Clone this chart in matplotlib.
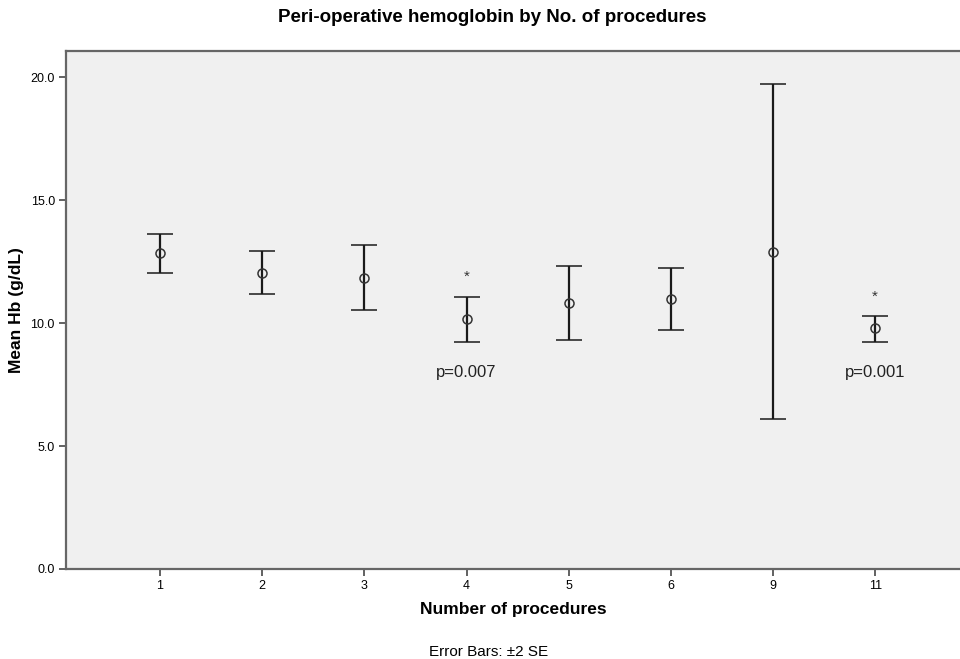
import numpy as np
import matplotlib.pyplot as plt

plt.rcParams['font.family'] = ['Liberation Sans', 'DejaVu Sans']

groups = ['1', '2', '3', '4', '5', '6', '9', '11']
mean_hb = [12.85, 12.03, 11.83, 10.16, 10.81, 10.98, 12.89, 9.80]
upper = [13.62, 12.93, 13.17, 11.06, 12.32, 12.24, 19.72, 10.28]
lower = [12.03, 11.18, 10.53, 9.23, 9.31, 9.72, 6.10, 9.23]

# significant groups: (index, star y, p text, p y)
sig = [(3, 11.9, 'p=0.007', 7.97), (7, 11.06, 'p=0.001', 8.0)]

fig = plt.figure(figsize=(9.6, 6.59), dpi=100)
ax = fig.add_axes([0.06875, 0.1366, 0.93125, 0.786])
ax.set_facecolor('#f0f0f0')

x = np.arange(len(groups))
m = np.array(mean_hb)
err = [m - np.array(lower), np.array(upper) - m]
ax.errorbar(x, m, yerr=err, fmt='o', mfc='none', mec='#333333', ms=6.5, mew=1.1,
            ecolor='#1a1a1a', elinewidth=1.6, capsize=9.5, capthick=2.0)

for i, sy, ptxt, py in sig:
    ax.text(x[i], sy, '*', ha='center', va='center', fontsize=11, color='#333333')
    ax.text(x[i], py, ptxt, ha='center', va='center', fontsize=12, color='#222222')

ax.set_xlim(-0.92, 7.83)
ax.set_ylim(0, 21.06)
ax.set_xticks(x)
ax.set_xticklabels(groups)
ax.set_yticks([0, 5, 10, 15, 20])
ax.set_yticklabels(['0.0', '5.0', '10.0', '15.0', '20.0'])
ax.tick_params(axis='both', length=5, width=1.3, color='#555555', labelsize=9, pad=3)

for s in ['left', 'bottom', 'top']:
    ax.spines[s].set_color('#666666')
    ax.spines[s].set_linewidth(1.6)
ax.spines['right'].set_visible(False)

ax.set_xlabel('Number of procedures', fontsize=12.5, fontweight='bold', labelpad=7)
ax.set_ylabel('Mean Hb (g/dL)', fontsize=12.5, fontweight='bold', labelpad=5)
fig.text(0.513, 0.973, 'Peri-operative hemoglobin by No. of procedures', ha='center',
         va='center', fontsize=13.5, fontweight='bold')
fig.text(0.509, 0.011, 'Error Bars: \u00b12 SE', ha='center', va='center', fontsize=11)

fig.savefig('out.png', dpi=100)
